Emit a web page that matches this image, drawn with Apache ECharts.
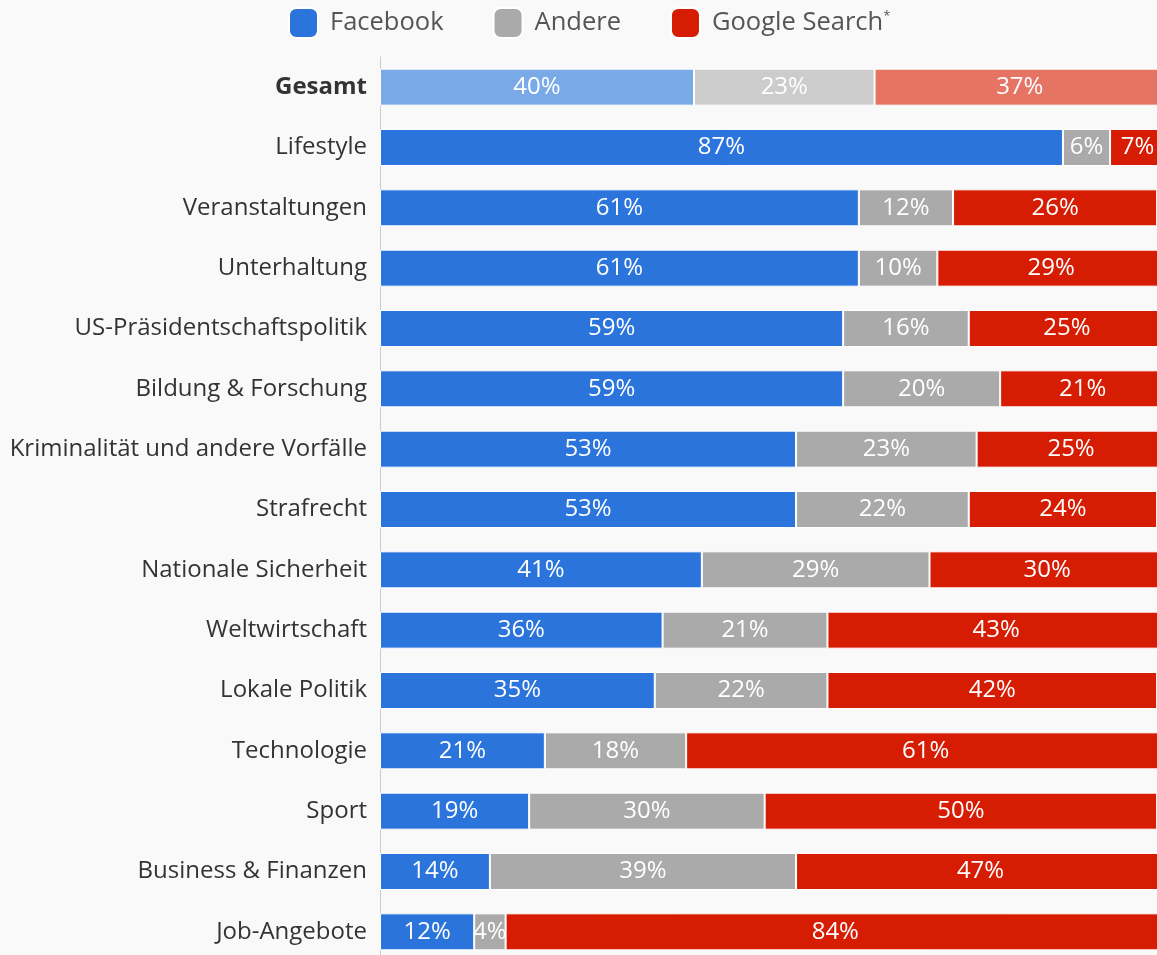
<!DOCTYPE html>
<html>
<head>
<meta charset="utf-8">
<script src="https://cdn.jsdelivr.net/npm/echarts@6/dist/echarts.min.js"></script>
<style>
html,body{margin:0;padding:0;background:#f9f9f9;overflow:hidden;width:1157px;height:955px;}
#c{width:1165px;height:962px;}
</style>
</head>
<body>
<div id="c"></div>
<script>
const categories = ["Gesamt","Lifestyle","Veranstaltungen","Unterhaltung","US-Präsidentschaftspolitik","Bildung & Forschung","Kriminalität und andere Vorfälle","Strafrecht","Nationale Sicherheit","Weltwirtschaft","Lokale Politik","Technologie","Sport","Business & Finanzen","Job-Angebote"];
const facebook = [40,87,61,61,59,59,53,53,41,36,35,21,19,14,12];
const andere = [23,6,12,10,16,20,23,22,29,21,22,18,30,39,4];
const google = [37,7,26,29,25,21,25,24,30,43,42,61,50,47,84];
const seriesNames = ["Facebook","Andere","Google Search*"];

const colors = ["#2a74dc","#aaaaaa","#d61c03"];
const lightColors = ["#7aa9e8","#cccccc","#e57465"];
const font = "Open Sans";

function mk(name, values, idx){
  return {
    name: name,
    type: 'bar',
    stack: 'total',
    barWidth: 37,
    data: values.map((v,i)=>({
      value: v,
      itemStyle: { color: i===0 ? lightColors[idx] : colors[idx] }
    })),
    itemStyle: { color: colors[idx], borderColor: '#ffffff', borderWidth: 1 },
    label: {
      show: true,
      position: 'inside',
      formatter: p => p.value + '%',
      color: '#ffffff',
      fontFamily: font,
      fontSize: 24
    },
    emphasis: { disabled: true }
  };
}

const chart = echarts.init(document.getElementById('c'), null, {renderer:'canvas'});
chart.setOption({
  backgroundColor: '#f9f9f9',
  animation: false,
  legend: {
    top: 7,
    left: 288,
    padding: 0,
    itemWidth: 29,
    itemHeight: 30,
    itemGap: 49,
    icon: 'roundRect',
    data: seriesNames.map((n,i)=>({name:n, itemStyle:{color:colors[i]}})),
    formatter: n => n === 'Google Search*' ? '{t|Google Search}{sup|*}' : '{t|' + n + '}',
    textStyle: {
      fontFamily: font, fontSize: 25.5, color: '#555555',
      rich: {
        t: { fontFamily: font, fontSize: 25.5, color: '#555555', padding: [0,0,0,7] },
        sup: { fontFamily: font, fontSize: 13, color: '#555555', verticalAlign: 'top', padding:[0,0,12,0] }
      }
    }
  },
  grid: { left: 380, right: 0, top: 57, bottom: 0, containLabel: false },
  xAxis: {
    type: 'value', min: 0, max: 100, show: false
  },
  yAxis: {
    type: 'category',
    data: categories,
    inverse: true,
    axisLine: { show: true, lineStyle: { color: '#cccccc', width: 1 } },
    axisTick: { show: false },
    axisLabel: {
      margin: 13,
      fontFamily: font,
      fontSize: 24,
      color: '#333333',
      formatter: v => v === 'Gesamt' ? '{b|' + v + '}' : v,
      rich: { b: { fontFamily: font, fontSize: 24, fontWeight: 'bold', color: '#333333' } }
    }
  },
  series: [
    mk(seriesNames[0], facebook, 0),
    mk(seriesNames[1], andere, 1),
    mk(seriesNames[2], google, 2)
  ]
});
</script>
</body>
</html>
